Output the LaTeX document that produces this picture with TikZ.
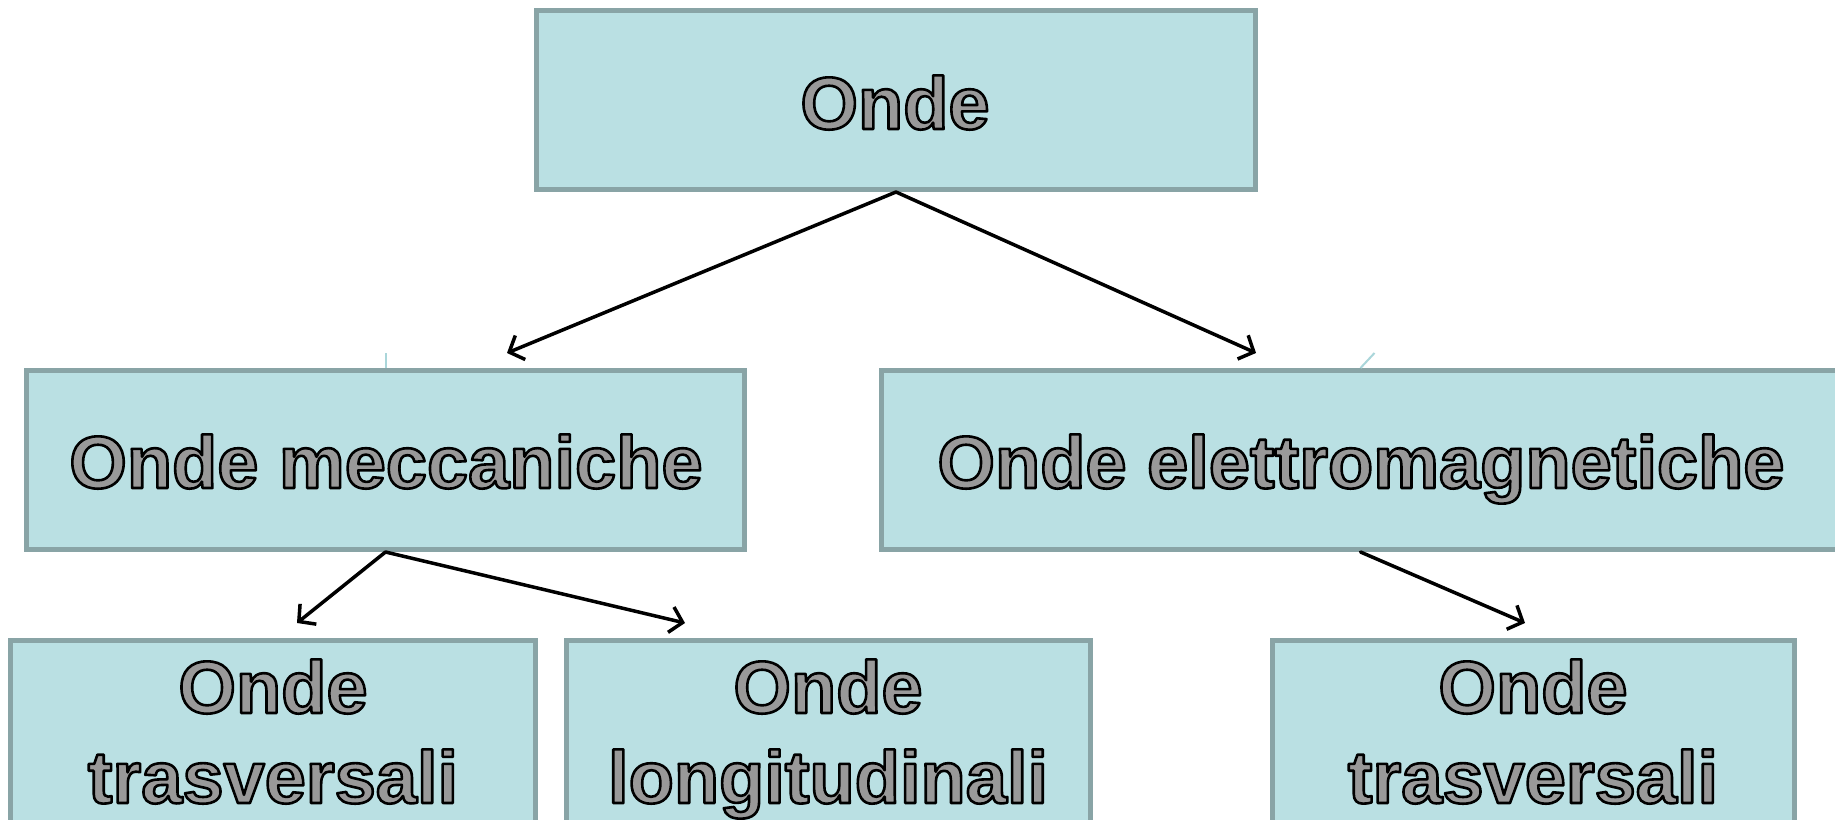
\documentclass[tikz,border=0pt]{standalone}
\usepackage{fontspec}
\setmainfont{Liberation Sans}
\usetikzlibrary{arrows.meta}
\definecolor{boxfill}{RGB}{186,224,227}
\definecolor{boxline}{RGB}{137,164,166}
\definecolor{tickc}{RGB}{170,214,218}
\newcommand{\olt}[1]{\special{pdf:literal direct 2 Tr 2.6 w 1 j 0 0 0 RG 0.6 0.6 0.6 rg}#1\special{pdf:literal direct 0 Tr 0 g 0 G}}
\tikzset{
  box/.style={draw=boxline, line width=5pt, fill=boxfill, inner sep=0pt, rectangle},
  lbl/.style={anchor=base, inner sep=0pt, font=\fontsize{74}{90}\selectfont\bfseries},
  arr/.style={-{Straight Barb[length=12pt,width=26pt,line width=3.5pt]}, line width=3.5pt, line cap=round},
  tick/.style={draw=tickc, line width=2pt},
}
\begin{document}
\begin{tikzpicture}[x=1pt,y=-1pt]
\useasboundingbox (0,0) rectangle (1835,819);
\fill[white] (0,0) rectangle (1835,819);
% boxes
\node[box, minimum width=719pt, minimum height=179pt] (onde) at (896,100) {};
\node[box, minimum width=718pt, minimum height=179pt] (mecc) at (385.5,460) {};
\node[box, minimum width=959pt, minimum height=179pt] (elet) at (1360.5,460) {};
\node[box, minimum width=525pt, minimum height=260pt] (trl) at (273,770.5) {};
\node[box, minimum width=524pt, minimum height=260pt] (lon) at (828,770.5) {};
\node[box, minimum width=522pt, minimum height=260pt] (trr) at (1533,770.5) {};
% labels
\node[lbl] (t0) at (895,129) {\olt{Onde}};
\node[lbl] (t1) at (386,488) {\olt{Onde meccaniche}};
\node[lbl] (t2) at (1361,488) {\olt{Onde elettromagnetiche}};
\node[lbl] (t3a) at (273,713) {\olt{Onde}};
\node[lbl] (t3b) at (273,803) {\olt{trasversali}};
\node[lbl] (t4a) at (828,713) {\olt{Onde}};
\node[lbl] (t4b) at (828,803) {\olt{longitudinali}};
\node[lbl] (t5a) at (1533,713) {\olt{Onde}};
\node[lbl] (t5b) at (1533,803) {\olt{trasversali}};
% arrow ends
\coordinate (e1) at (507,353);
\coordinate (e2) at (1256,353);
\coordinate (e3) at (297,623);
\coordinate (e4) at (685,623);
\coordinate (e5) at (1525,623);
\draw[arr] (onde.south) -- (e1);
\draw[arr] (onde.south) -- (e2);
\draw[arr] (mecc.south) -- (e3);
\draw[arr] (mecc.south) -- (e4);
\draw[arr] (elet.south) -- (e5);
% small ticks
\draw[tick] (mecc.north) -- ++(0,-15);
\draw[tick] (elet.north) -- ++(14,-15);
\end{tikzpicture}
\end{document}
